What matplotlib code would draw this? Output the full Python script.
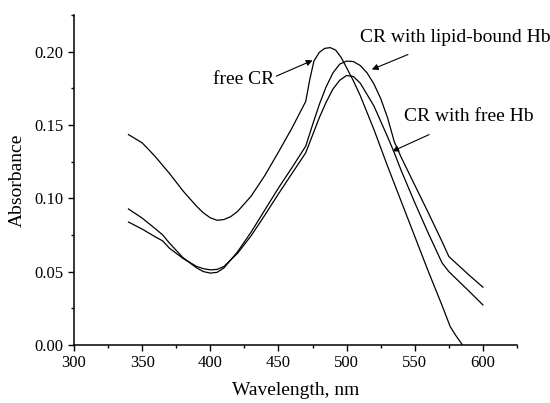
import numpy as np
import matplotlib.pyplot as plt
from matplotlib.ticker import MultipleLocator, FormatStrFormatter

# free CR
wl_a = [340, 350, 355, 360, 370, 380, 390, 395, 400, 405, 410, 415, 420, 430, 440, 450,
        460, 470, 473, 476, 480, 484, 488, 492, 496, 500, 505, 510, 520, 530, 540, 550,
        560, 570, 576, 580, 585]
abs_a = [0.1434, 0.1378, 0.133, 0.128, 0.117, 0.105, 0.0945, 0.090, 0.0867, 0.0850,
         0.0855, 0.0875, 0.091, 0.1015, 0.1155, 0.1315, 0.148, 0.166, 0.181, 0.1935,
         0.1995, 0.2022, 0.2027, 0.201, 0.196, 0.189, 0.180, 0.170, 0.147, 0.122, 0.098,
         0.074, 0.050, 0.027, 0.0125, 0.0066, 0.0]

# CR with lipid-bound Hb
wl_b = [340, 350, 360, 365, 370, 380, 390, 395, 400, 405, 410, 420, 430, 440, 450, 460,
        470, 475, 480, 485, 490, 495, 500, 505, 510, 515, 520, 525, 530, 535, 540, 550,
        560, 570, 575, 580, 590, 600]
abs_b = [0.0927, 0.0865, 0.079, 0.0751, 0.0695, 0.0595, 0.0525, 0.0500, 0.0490, 0.0495,
         0.0525, 0.0635, 0.077, 0.092, 0.107, 0.121, 0.1355, 0.150, 0.164, 0.176, 0.1855,
         0.1915, 0.1935, 0.1932, 0.1905, 0.1855, 0.178, 0.168, 0.155, 0.1385, 0.128,
         0.109, 0.090, 0.0705, 0.0603, 0.056, 0.0475, 0.0394]

# CR with free Hb
wl_c = [340, 350, 360, 365, 370, 380, 390, 395, 400, 405, 410, 420, 430, 440, 450, 460,
        470, 475, 480, 485, 490, 495, 500, 505, 510, 520, 530, 535, 540, 550, 560, 570,
        575, 580, 590, 600]
abs_c = [0.0838, 0.079, 0.0735, 0.071, 0.066, 0.059, 0.0535, 0.052, 0.0512, 0.0515,
         0.0535, 0.0625, 0.0745, 0.0885, 0.103, 0.117, 0.131, 0.143, 0.155, 0.1655,
         0.1745, 0.1805, 0.1837, 0.183, 0.1785, 0.163, 0.142, 0.131, 0.119, 0.097, 0.076,
         0.056, 0.050, 0.0455, 0.0365, 0.0273]

plt.rcParams['font.family'] = ['Liberation Serif', 'DejaVu Serif']

fig = plt.figure(figsize=(5.5, 4.03), dpi=100)
ax = fig.add_axes([0.1345, 0.144, 0.8055, 0.819])

for x, y in [(wl_a, abs_a), (wl_b, abs_b), (wl_c, abs_c)]:
    ax.plot(x, y, color='black', linewidth=0.9)

ax.set_xlim(300, 625)
ax.set_ylim(0, 0.225)
ax.xaxis.set_major_locator(MultipleLocator(50))
ax.xaxis.set_minor_locator(MultipleLocator(25))
ax.yaxis.set_major_locator(MultipleLocator(0.05))
ax.yaxis.set_minor_locator(MultipleLocator(0.025))
ax.yaxis.set_major_formatter(FormatStrFormatter('%.2f'))
ax.tick_params(which='major', direction='out', length=4, width=1, labelsize=12)
ax.tick_params(which='minor', direction='out', length=2.5, width=1)
ax.spines['top'].set_visible(False)
ax.spines['right'].set_visible(False)
ax.spines['left'].set_linewidth(1.1)
ax.spines['bottom'].set_linewidth(1.1)

ax.set_xlabel('Wavelength, nm', fontsize=14, labelpad=8)
ax.set_ylabel('Absorbance', fontsize=14, labelpad=6)

arrow = dict(arrowstyle='-|>', color='black', linewidth=0.8, mutation_scale=9,
             shrinkA=0, shrinkB=0)
ax.text(402, 0.181, 'free CR', fontsize=14, ha='left', va='center')
ax.annotate('', xy=(475, 0.194), xytext=(448.5, 0.1833), arrowprops=arrow)
ax.text(509.5, 0.2097, 'CR with lipid-bound Hb', fontsize=14, ha='left', va='center')
ax.annotate('', xy=(518.5, 0.1878), xytext=(545, 0.198), arrowprops=arrow)
ax.text(542, 0.156, 'CR with free Hb', fontsize=14, ha='left', va='center')
ax.annotate('', xy=(533.5, 0.132), xytext=(560.5, 0.1434), arrowprops=arrow)

plt.savefig('out.png', dpi=100)
